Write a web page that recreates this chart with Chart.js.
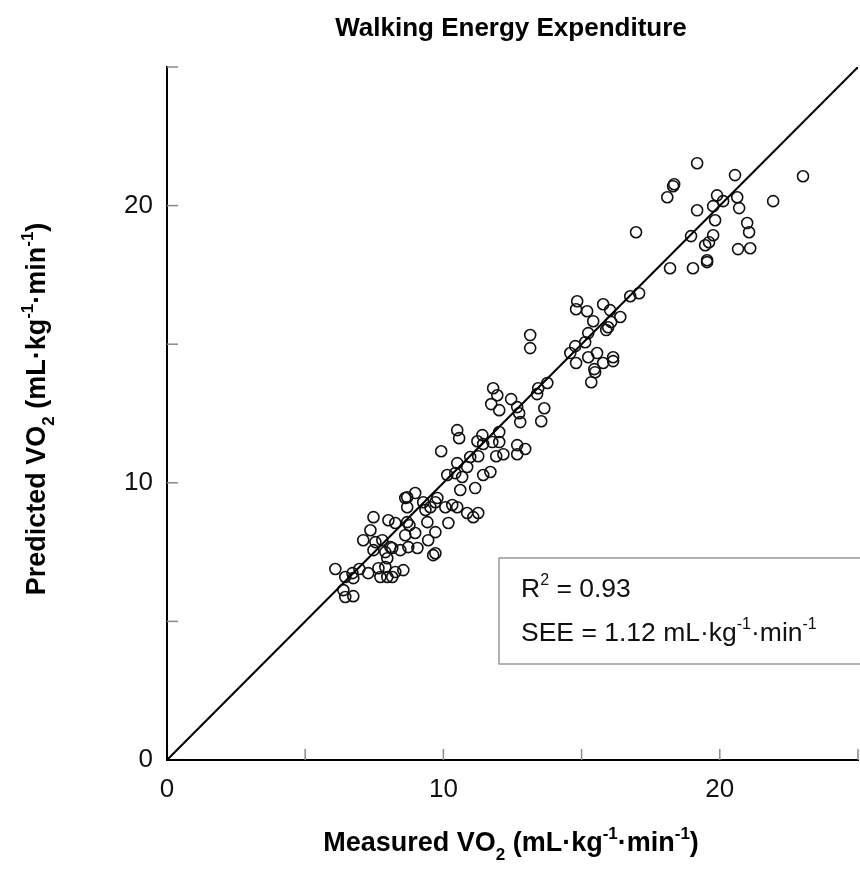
<!DOCTYPE html>
<html>
<head>
<meta charset="utf-8">
<script src="https://cdn.jsdelivr.net/npm/chart.js@4.4.1/dist/chart.umd.min.js"></script>
<style>
  body { margin: 0; background: #fff; }
  canvas { display: block; }
</style>
</head>
<body>
<canvas id="vo2Chart" width="860" height="886"></canvas>
<script>
// measured vs predicted VO2 (mL·kg-1·min-1)
const measuredVO2 = [
  6.09, 6.45, 6.71, 6.74, 6.96, 6.38, 6.45, 6.74, 7.28, 7.65, 7.72, 7.90, 7.97, 8.15, 8.26, 8.55,
  7.10, 7.36, 7.47, 7.54, 7.47, 7.79, 7.90, 7.97, 8.08, 8.15, 8.44, 8.01, 8.26, 8.69, 8.77, 8.62,
  8.98, 8.73, 9.06, 8.62, 8.69, 8.98, 8.69, 9.27, 9.35, 9.53, 9.71, 9.78, 9.42, 9.71, 9.45, 9.63,
  9.71, 10.18, 10.07, 10.32, 10.50, 10.86, 11.08, 11.26, 11.15, 10.61, 10.14, 10.43, 10.68, 11.44,
  11.70, 11.80, 11.95, 11.73, 12.02, 12.45, 12.67, 12.74, 12.78, 13.43, 13.39, 13.76, 13.65, 13.54,
  15.35, 15.49, 10.50, 10.57, 9.92, 11.41, 11.23, 11.44, 12.02, 12.02, 11.77, 12.67, 12.96, 12.67,
  12.17, 11.91, 11.26, 10.97, 10.50, 10.86, 13.14, 13.14, 18.20, 19.03, 19.54, 16.76, 17.08, 14.84,
  14.80, 15.20, 15.78, 16.03, 16.40, 15.42, 16.07, 15.96, 15.89, 15.24, 15.13, 14.77, 14.59, 14.80,
  15.24, 15.56, 15.78, 16.14, 16.14, 15.46, 19.18, 20.55, 23.01, 18.31, 18.35, 18.10, 19.90, 20.12,
  19.76, 20.63, 20.70, 21.93, 19.18, 19.83, 20.99, 21.06, 16.97, 18.96, 19.76, 19.61, 19.47, 20.66,
  21.10, 19.54
];
const predictedVO2 = [
  6.89, 6.60, 6.74, 6.56, 6.89, 6.13, 5.88, 5.91, 6.74, 6.92, 6.60, 6.96, 6.60, 6.60, 6.78, 6.85,
  7.93, 8.29, 8.76, 7.86, 7.57, 7.93, 7.50, 7.28, 7.68, 7.65, 7.57, 8.65, 8.55, 8.58, 8.47, 8.11,
  8.19, 7.68, 7.65, 9.45, 9.48, 9.63, 9.12, 9.30, 9.02, 9.12, 9.30, 9.45, 8.58, 8.22, 7.93, 7.39,
  7.46, 8.55, 9.12, 9.20, 9.12, 8.91, 8.76, 8.91, 9.81, 9.74, 10.28, 10.35, 10.21, 10.28,
  10.39, 13.41, 13.16, 12.84, 12.62, 13.02, 12.73, 12.51, 12.19, 13.41, 13.20, 13.60, 12.69, 12.22,
  13.63, 13.99, 11.90, 11.61, 11.14, 11.72, 11.50, 11.40, 11.83, 11.47, 11.47, 11.36, 11.22, 11.03,
  11.03, 10.96, 10.96, 10.93, 10.71, 10.57, 15.33, 14.86, 17.74, 17.74, 17.96, 16.73, 16.84, 16.55,
  16.26, 16.19, 16.44, 16.23, 15.98, 15.83, 15.80, 15.61, 15.51, 15.40, 15.07, 14.93, 14.68, 14.32,
  14.53, 14.68, 14.32, 14.53, 14.39, 14.10, 21.53, 21.10, 21.06, 20.70, 20.77, 20.30, 20.37, 20.16,
  19.98, 20.30, 19.91, 20.16, 19.83, 19.47, 19.37, 19.04, 19.04, 18.90, 18.93, 18.68, 18.57, 18.43,
  18.46, 18.03
];
// line of identity
const identityX = [0, 25];
const identityY = [0, 25];

const axisMin = 0;
const axisMax = 25;
const tickStep = 5;
const tickLabels = [0, 10, 20];

const FONT = '"Liberation Sans", Arial, Helvetica, sans-serif';

const scatterPoints = measuredVO2.map((x, i) => ({ x: x, y: predictedVO2[i] }));
const identityPoints = identityX.map((x, i) => ({ x: x, y: identityY[i] }));

// draws a line of text with sub/superscript pieces
function drawRich(ctx, parts, x, y, size, weight, align) {
  const base = `${weight} ${size}px ${FONT}`;
  const small = `${weight} ${Math.round(size * 0.62)}px ${FONT}`;
  let total = 0;
  parts.forEach((p) => {
    ctx.font = p.s ? small : base;
    total += ctx.measureText(p.t).width;
  });
  let cx = align === "center" ? x - total / 2 : x;
  ctx.textAlign = "left";
  ctx.textBaseline = "alphabetic";
  parts.forEach((p) => {
    ctx.font = p.s ? small : base;
    const dy = p.s === "sub" ? size * 0.32 : p.s === "sup" ? -size * 0.45 : 0;
    ctx.fillText(p.t, cx, y + dy);
    cx += ctx.measureText(p.t).width;
  });
}

const unitParts = [
  { t: " (mL·kg" }, { t: "-1", s: "sup" }, { t: "·min" }, { t: "-1", s: "sup" }, { t: ")" }
];

const decorations = {
  id: "decorations",
  afterDraw(chart) {
    const ctx = chart.ctx;
    const area = chart.chartArea;
    const xs = chart.scales.x;
    const ys = chart.scales.y;
    ctx.save();

    // inward tick marks
    ctx.strokeStyle = "#8a8a8a";
    ctx.lineWidth = 1.5;
    for (let v = tickStep; v <= axisMax; v += tickStep) {
      const px = xs.getPixelForValue(v);
      ctx.beginPath();
      ctx.moveTo(px, area.bottom);
      ctx.lineTo(px, area.bottom - 11);
      ctx.stroke();
      const py = ys.getPixelForValue(v);
      ctx.beginPath();
      ctx.moveTo(area.left, py);
      ctx.lineTo(area.left + 11, py);
      ctx.stroke();
    }

    ctx.fillStyle = "#000";
    // title
    ctx.font = `bold 26px ${FONT}`;
    ctx.textAlign = "center";
    ctx.textBaseline = "alphabetic";
    ctx.fillText("Walking Energy Expenditure", 511, 36);

    // x axis title
    drawRich(ctx, [{ t: "Measured VO" }, { t: "2", s: "sub" }].concat(unitParts), 511, 851, 27, "bold", "center");

    // y axis title
    ctx.save();
    ctx.translate(45, 409);
    ctx.rotate(-Math.PI / 2);
    drawRich(ctx, [{ t: "Predicted VO" }, { t: "2", s: "sub" }].concat(unitParts), 0, 0, 27, "bold", "center");
    ctx.restore();

    // stats box
    ctx.strokeStyle = "#9a9a9a";
    ctx.lineWidth = 1.5;
    ctx.beginPath();
    ctx.moveTo(870, 558);
    ctx.lineTo(499, 558);
    ctx.lineTo(499, 664);
    ctx.lineTo(870, 664);
    ctx.stroke();
    ctx.fillStyle = "#111";
    drawRich(ctx, [{ t: "R" }, { t: "2", s: "sup" }, { t: " = 0.93" }], 521, 597, 26.5, "normal", "left");
    drawRich(ctx, [{ t: "SEE = 1.12 mL·kg" }, { t: "-1", s: "sup" }, { t: "·min" }, { t: "-1", s: "sup" }], 521, 641, 26.5, "normal", "left");

    ctx.restore();
  }
};

new Chart(document.getElementById("vo2Chart"), {
  data: {
    datasets: [
      {
        type: "line",
        data: identityPoints,
        borderColor: "#000",
        borderWidth: 2,
        pointRadius: 0,
        fill: false
      },
      {
        type: "scatter",
        data: scatterPoints,
        pointStyle: "circle",
        pointRadius: 5.5,
        borderColor: "#111",
        borderWidth: 1.6,
        backgroundColor: "rgba(0,0,0,0)"
      }
    ]
  },
  options: {
    responsive: false,
    animation: false,
    layout: { autoPadding: false, padding: { top: 67, right: 2, left: 0, bottom: 0 } },
    plugins: {
      legend: { display: false },
      tooltip: { enabled: false }
    },
    scales: {
      x: {
        type: "linear",
        min: axisMin,
        max: axisMax,
        afterFit: (scale) => {
          scale.height = 126;
          scale.paddingLeft = 0;
          scale.paddingRight = 0;
        },
        ticks: {
          stepSize: tickStep,
          autoSkip: false,
          maxRotation: 0,
          padding: 14,
          color: "#111",
          font: { family: FONT, size: 26 },
          callback: (v) => (tickLabels.includes(v) ? String(v) : "")
        },
        grid: { drawOnChartArea: false, drawTicks: false },
        border: { display: true, color: "#000", width: 2 }
      },
      y: {
        type: "linear",
        min: axisMin,
        max: axisMax,
        afterFit: (scale) => {
          scale.width = 167;
          scale.paddingTop = 0;
          scale.paddingBottom = 0;
        },
        ticks: {
          stepSize: tickStep,
          autoSkip: false,
          padding: 14,
          color: "#111",
          font: { family: FONT, size: 26 },
          callback: (v) => (tickLabels.includes(v) ? String(v) : "")
        },
        grid: { drawOnChartArea: false, drawTicks: false },
        border: { display: true, color: "#000", width: 2 }
      }
    }
  },
  plugins: [decorations]
});
</script>
</body>
</html>
